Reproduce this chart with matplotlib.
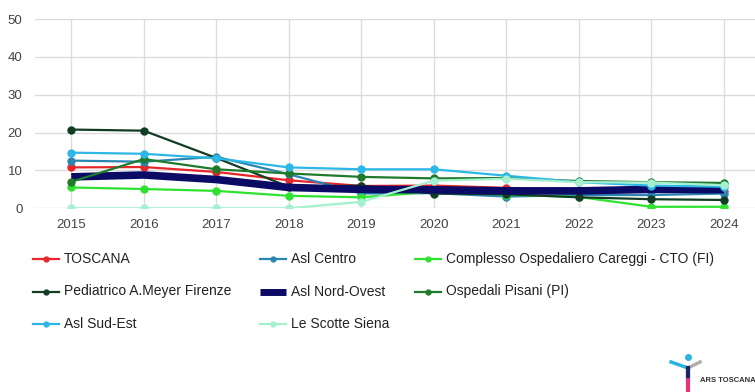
import numpy as np
import matplotlib
matplotlib.use("Agg")
import matplotlib.pyplot as plt
from matplotlib.lines import Line2D

plt.rcParams['font.family'] = ['Liberation Sans', 'DejaVu Sans']

# anni
years = [2015, 2016, 2017, 2018, 2019, 2020, 2021, 2022, 2023, 2024]

# valori
toscana = [10.8, 10.9, 9.6, 7.4, 5.9, 6.0, 5.4, 4.8, 4.7, 4.6]
asl_centro = [12.6, 12.3, 13.6, 9.0, 3.9, 4.0, 3.1, 3.5, 3.5, 3.9]
careggi = [5.5, 5.1, 4.6, 3.3, 2.9, 4.4, 3.6, 3.0, 0.4, 0.4]
meyer = [20.8, 20.5, 13.3, 5.7, 6.0, 3.9, 3.7, 2.9, 2.4, 2.2]
nord_ovest = [8.3, 8.8, 7.6, 5.5, 5.0, 4.9, 4.6, 4.6, 5.0, 4.9]
pisani = [7.0, 13.0, 10.3, 9.2, 8.3, 7.9, 8.0, 7.2, 6.9, 6.7]
sud_est = [14.7, 14.4, 13.2, 10.8, 10.3, 10.3, 8.6, 6.9, 6.0, 5.7]
le_scotte = [0.0, 0.0, 0.0, 0.0, 1.7, 7.3, 7.8, 6.9, 6.8, 6.1]

labels = ["TOSCANA", "Asl Centro", "Complesso Ospedaliero Careggi - CTO (FI)",
          "Pediatrico A.Meyer Firenze", "Asl Nord-Ovest", "Ospedali Pisani (PI)",
          "Asl Sud-Est", "Le Scotte Siena"]
series = [toscana, asl_centro, careggi, meyer, nord_ovest, pisani, sud_est, le_scotte]
colors = ["#e8262a", "#2a86b0", "#2fe22f", "#123d24", "#0b0b66", "#1e7b2c",
          "#2cb7e6", "#a4f0cf"]

W, H = 755, 392
fig = plt.figure(figsize=(W / 100, H / 100), dpi=100)
ax = fig.add_axes([35 / W, 1 - 208.3 / H, 1 - 35 / W, (208.3 - 19) / H])

txt_col = "#444444"
for i, (lab, vals, c) in enumerate(zip(labels, series, colors)):
    if lab == "Asl Nord-Ovest":
        ax.plot(years, vals, color=c, lw=5.5, solid_capstyle='butt', zorder=3 + i)
    else:
        ax.plot(years, vals, color=c, lw=1.6, marker='o', ms=5, zorder=3 + i)

ax.set_xlim(2014.5, 2024.43)
ax.set_ylim(0, 50)
ax.set_yticks([0, 10, 20, 30, 40, 50])
ax.set_xticks(years)
ax.grid(True, color="#dcdcdc", lw=1)
for s in ax.spines.values():
    s.set_visible(False)
ax.tick_params(length=0, labelsize=9.5, labelcolor=txt_col)
ax.tick_params(axis='y', pad=9)
ax.tick_params(axis='x', pad=8)
ax.set_axisbelow(True)

# legenda manuale
col_x = [33, 260, 415]
row_y = [259, 291.5, 324]
for i, (lab, c) in enumerate(zip(labels, colors)):
    x0 = col_x[i % 3]
    y0 = row_y[i // 3]
    fx0, fx1 = x0 / W, (x0 + 26) / W
    fy = 1 - y0 / H
    if lab == "Asl Nord-Ovest":
        fig.add_artist(Line2D([fx0, fx1], [fy, fy], color=c, lw=5, solid_capstyle='butt'))
    else:
        fig.add_artist(Line2D([fx0, fx1], [fy, fy], color=c, lw=1.6))
        fig.add_artist(Line2D([(fx0 + fx1) / 2], [fy], color=c, marker='o', ms=3.5))
    fig.text((x0 + 31) / W, fy, lab, fontsize=10, color="#222222", va='center', ha='left')

# logo ARS Toscana (approssimato)
fig.add_artist(Line2D([671 / W, 688 / W], [1 - 362 / H, 1 - 368 / H], color="#2ab4e0", lw=2.5))
fig.add_artist(Line2D([688 / W, 700 / W], [1 - 368 / H, 1 - 362 / H], color="#b0b0b0", lw=2.5))
fig.add_artist(Line2D([688 / W], [1 - 357 / H], color="#2ab4e0", marker='o', ms=4))
fig.add_artist(Line2D([688 / W, 688 / W], [1 - 369 / H, 1 - 392 / H], color="#e8327a", lw=3))
fig.add_artist(Line2D([688 / W, 688 / W], [1 - 368 / H, 1 - 376 / H], color="#1a2a60", lw=3))
fig.text(700 / W, 1 - 380 / H, "ARS TOSCANA", fontsize=5.5, color="#333333",
         fontweight='bold', va='center', ha='left')

fig.savefig("out.png", dpi=100, facecolor="white")
